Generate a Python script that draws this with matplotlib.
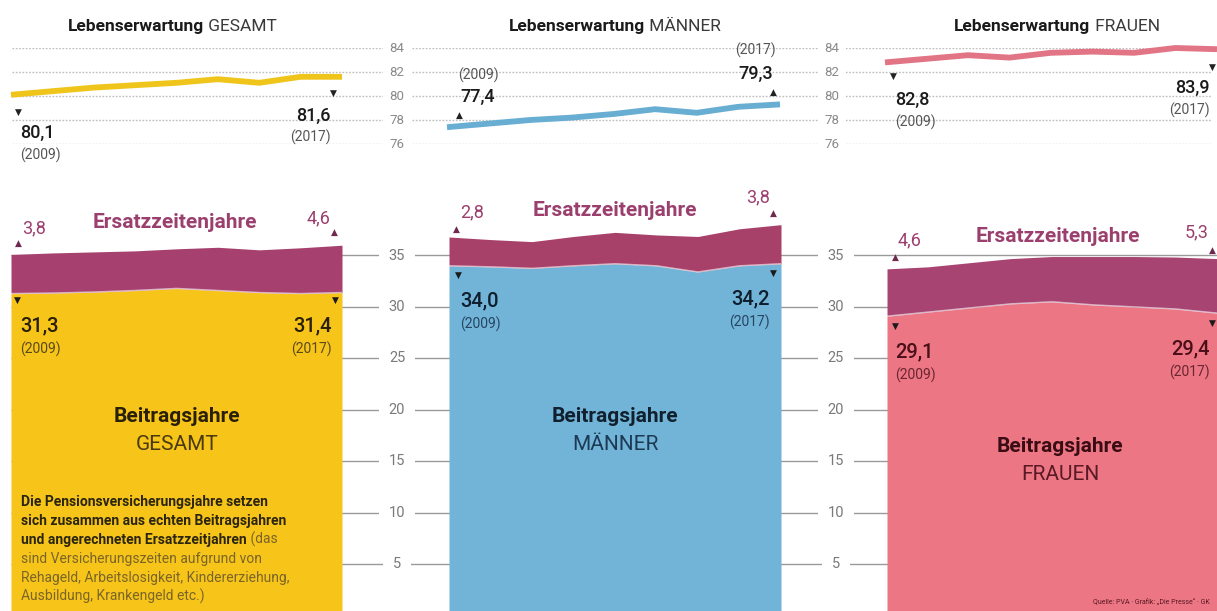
import matplotlib.pyplot as plt

# Daten
jahre = list(range(2009, 2018))

le_gesamt = [80.1, 80.4, 80.7, 80.9, 81.1, 81.4, 81.1, 81.6, 81.6]
le_maenner = [77.4, 77.7, 78.0, 78.2, 78.5, 78.9, 78.6, 79.1, 79.3]
le_frauen = [82.8, 83.1, 83.4, 83.2, 83.6, 83.7, 83.6, 84.0, 83.9]

beitrag_gesamt = [31.3, 31.35, 31.45, 31.6, 31.8, 31.6, 31.4, 31.3, 31.4]
ersatz_gesamt = [3.8, 3.9, 3.9, 3.85, 3.85, 4.2, 4.15, 4.45, 4.6]
beitrag_maenner = [34.0, 33.9, 33.75, 34.0, 34.2, 34.0, 33.4, 34.0, 34.2]
ersatz_maenner = [2.8, 2.65, 2.6, 2.85, 3.05, 3.0, 3.45, 3.6, 3.8]
beitrag_frauen = [29.1, 29.5, 29.9, 30.3, 30.5, 30.2, 30.0, 29.8, 29.4]
ersatz_frauen = [4.6, 4.4, 4.4, 4.4, 4.4, 4.7, 4.9, 5.05, 5.3]

le_ticks = [76, 78, 80, 82, 84]
jahre_ticks = [5, 10, 15, 20, 25, 30, 35]

plt.rcParams['font.family'] = ['Roboto', 'DejaVu Sans']

W, H = 1217, 611
fig = plt.figure(figsize=(W / 100, H / 100), dpi=100)
fig.patch.set_facecolor('white')


def ax_px(x0, x1, ytop, ybot, z=1):
    a = fig.add_axes([x0 / W, 1 - ybot / H, (x1 - x0) / W, (ybot - ytop) / H])
    a.set_zorder(z)
    a.patch.set_alpha(0)
    a.axis('off')
    return a


# Skala unten: 35 bei y=255.5 px, 5 bei y=564 px
s = (564 - 255.5) / 30
y_unten = 5 - (611 - 564) / s
y_oben = 35 + (255.5 - 200) / s

# Hintergrund-Gitter oben (gepunktet)
bg_top = ax_px(0, W, 48, 144, z=0)
bg_top.set_xlim(0, W)
bg_top.set_ylim(76, 84)
for v in le_ticks:
    bg_top.hlines(v, 12, 1212, color='#bdbdbd', lw=1, ls=(0, (1.2, 1.2)))
    for xl in [397, 832]:
        bg_top.text(xl, v, str(v), ha='center', va='center', fontsize=9.5, color='#8a8a8a',
                    bbox=dict(fc='white', ec='none', pad=5))

# Hintergrund-Gitter unten
bg_bot = ax_px(0, W, 200, 611, z=0)
bg_bot.set_xlim(0, W)
bg_bot.set_ylim(y_unten, y_oben)
for v in jahre_ticks:
    bg_bot.hlines(v, 11, 1217, color='#9a9a9a', lw=1)
    for xl in [397, 836]:
        bg_bot.text(xl, v, str(v), ha='center', va='center', fontsize=10.5, color='#7a7a7a',
                    bbox=dict(fc='white', ec='none', pad=7))

panels = [
    dict(x=(11, 342), xl=(11, 342), le=le_gesamt, b=beitrag_gesamt, e=ersatz_gesamt,
         line='#efc51c', area='#f7c41a', purple='#a6416f'),
    dict(x=(449, 781), xl=(447, 780), le=le_maenner, b=beitrag_maenner, e=ersatz_maenner,
         line='#68add2', area='#72b4d8', purple='#a8416a'),
    dict(x=(887, 1217), xl=(885, 1217), le=le_frauen, b=beitrag_frauen, e=ersatz_frauen,
         line='#e27585', area='#ec7683', purple='#a84472'),
]

for p in panels:
    at = ax_px(p['xl'][0], p['xl'][1], 48, 144, z=2)
    at.set_xlim(2009, 2017)
    at.set_ylim(76, 84)
    at.plot(jahre, p['le'], color=p['line'], lw=4.2, solid_capstyle='butt',
            solid_joinstyle='round', clip_on=False)

    ab = ax_px(p['x'][0], p['x'][1], 200, 611, z=2)
    ab.set_xlim(2009, 2017)
    ab.set_ylim(y_unten, y_oben)
    gesamt = [b + e for b, e in zip(p['b'], p['e'])]
    ab.fill_between(jahre, 0, p['b'], color=p['area'], lw=0)
    ab.fill_between(jahre, p['b'], gesamt, color=p['purple'], lw=0)
    ab.plot(jahre, p['b'], color='white', lw=1, alpha=0.6)

# Text-Ebene in Pixel-Koordinaten
ov = fig.add_axes([0, 0, 1, 1])
ov.set_zorder(5)
ov.patch.set_alpha(0)
ov.set_xlim(0, W)
ov.set_ylim(H, 0)
ov.axis('off')

fig.canvas.draw()
rend = fig.canvas.get_renderer()


def zweiteilig(xc, y, a, b, fs, c1, c2):
    t1 = ov.text(0, y, a, fontsize=fs, weight='bold', color=c1, va='baseline')
    w1 = t1.get_window_extent(rend).width
    t2 = ov.text(0, y, b, fontsize=fs, color=c2, va='baseline')
    w2 = t2.get_window_extent(rend).width
    x0 = xc - (w1 + w2) / 2
    t1.set_x(x0)
    t2.set_x(x0 + w1)


zweiteilig(172, 31, 'Lebenserwartung', ' GESAMT', 12.5, '#1a1a1a', '#3a3a3a')
zweiteilig(615, 31, 'Lebenserwartung', ' MÄNNER', 12.5, '#1a1a1a', '#3a3a3a')
zweiteilig(1057, 31, 'Lebenserwartung', ' FRAUEN', 12.5, '#1a1a1a', '#3a3a3a')

tri = dict(fontsize=6.5, family='DejaVu Sans', ha='center', va='center')
zahl = dict(fontsize=13, color='#1a1a1a', va='center', weight='medium')

# Werte Lebenserwartung
ov.text(18, 112, '▼', color='#222', **tri)
ov.text(20, 133, '80,1', **zahl)
ov.text(20, 155, '(2009)', fontsize=10, color='#555', va='center')
ov.text(333, 93, '▼', color='#222', **tri)
ov.text(331, 116, '81,6', ha='right', **zahl)
ov.text(331, 137, '(2017)', fontsize=10, color='#555', va='center', ha='right')

ov.text(458, 75, '(2009)', fontsize=10, color='#555', va='center')
ov.text(460, 97, '77,4', **zahl)
ov.text(459, 115, '▲', color='#222', **tri)
ov.text(776, 50, '(2017)', fontsize=10, color='#555', va='center', ha='right')
ov.text(773, 74, '79,3', ha='right', **zahl)
ov.text(773, 92, '▲', color='#222', **tri)

ov.text(893, 76, '▼', color='#222', **tri)
ov.text(895, 100, '82,8', **zahl)
ov.text(895, 122, '(2009)', fontsize=10, color='#555', va='center')
ov.text(1212, 67, '▼', color='#222', **tri)
ov.text(1210, 88, '83,9', ha='right', **zahl)
ov.text(1210, 110, '(2017)', fontsize=10, color='#555', va='center', ha='right')

# Ersatzzeitenjahre
lila = '#9b3f6e'
for xc, y in [(175, 222), (615, 210), (1058, 237)]:
    ov.text(xc, y, 'Ersatzzeitenjahre', fontsize=15, weight='bold', color=lila,
            ha='center', va='center')

for x, y, ha, s_ in [(22, 228, 'left', '3,8'), (330, 218, 'right', '4,6'),
                     (460, 212, 'left', '2,8'), (770, 197, 'right', '3,8'),
                     (898, 240, 'left', '4,6'), (1209, 232, 'right', '5,3')]:
    ov.text(x, y, s_, fontsize=13, color=lila, ha=ha, va='center')
for x, y in [(18, 243), (334, 232), (456, 229), (773, 213), (895, 257), (1212, 250)]:
    ov.text(x, y, '▲', color='#6e2a4e', **tri)

# Beitragsjahre Werte
werte = [
    (20, 'left', 300, 17, '31,3', '(2009)', '#2a2008', '#5a4a1a'),
    (332, 'right', 300, 335, '31,4', '(2017)', '#2a2008', '#5a4a1a'),
    (460, 'left', 275, 458, '34,0', '(2009)', '#0f1e2c', '#254560'),
    (770, 'right', 273, 773, '34,2', '(2017)', '#0f1e2c', '#254560'),
    (895, 'left', 326, 895, '29,1', '(2009)', '#4a0f18', '#6a2630'),
    (1210, 'right', 323, 1212, '29,4', '(2017)', '#4a0f18', '#6a2630'),
]
for x, ha, ty, tx, v, j, c1, c2 in werte:
    ov.text(tx, ty, '▼', color='#1a1a1a', **tri)
    ov.text(x, ty + 26, v, fontsize=14.5, weight='medium', color=c1, ha=ha, va='center')
    ov.text(x, ty + 49, j, fontsize=10, color=c2, ha=ha, va='center')

# Beschriftung der Flächen
for xc, y, name, c1, c2 in [(177, 417, 'GESAMT', '#2a2008', '#4a3a10'),
                            (615, 417, 'MÄNNER', '#10202e', '#1d3a55'),
                            (1060, 447, 'FRAUEN', '#3a0c14', '#5a1a25')]:
    ov.text(xc, y, 'Beitragsjahre', fontsize=15, weight='bold', color=c1, ha='center', va='center')
    ov.text(xc, y + 28, name, fontsize=15, color=c2, ha='center', va='center')

# Erklärungstext
fett = ['Die Pensionsversicherungsjahre setzen',
        'sich zusammen aus echten Beitragsjahren',
        'und angerechneten Ersatzzeitjahren']
normal = ['sind Versicherungszeiten aufgrund von',
          'Rehageld, Arbeitslosigkeit, Kindererziehung,',
          'Ausbildung, Krankengeld etc.)']
for i, z in enumerate(fett):
    t = ov.text(21, 506 + i * 19, z, fontsize=10, weight='bold', color='#2b2510', va='baseline')
w = t.get_window_extent(rend).width
ov.text(21 + w, 506 + 2 * 19, ' (das', fontsize=10, color='#7a6528', va='baseline')
for i, z in enumerate(normal):
    ov.text(21, 506 + (i + 3) * 19, z, fontsize=10, color='#7a6528', va='baseline')

ov.text(1210, 603, 'Quelle: PVA · Grafik: „Die Presse“ · GK', fontsize=5, color='#5a1a25',
        ha='right', va='center')

fig.savefig('out.png', dpi=100)
